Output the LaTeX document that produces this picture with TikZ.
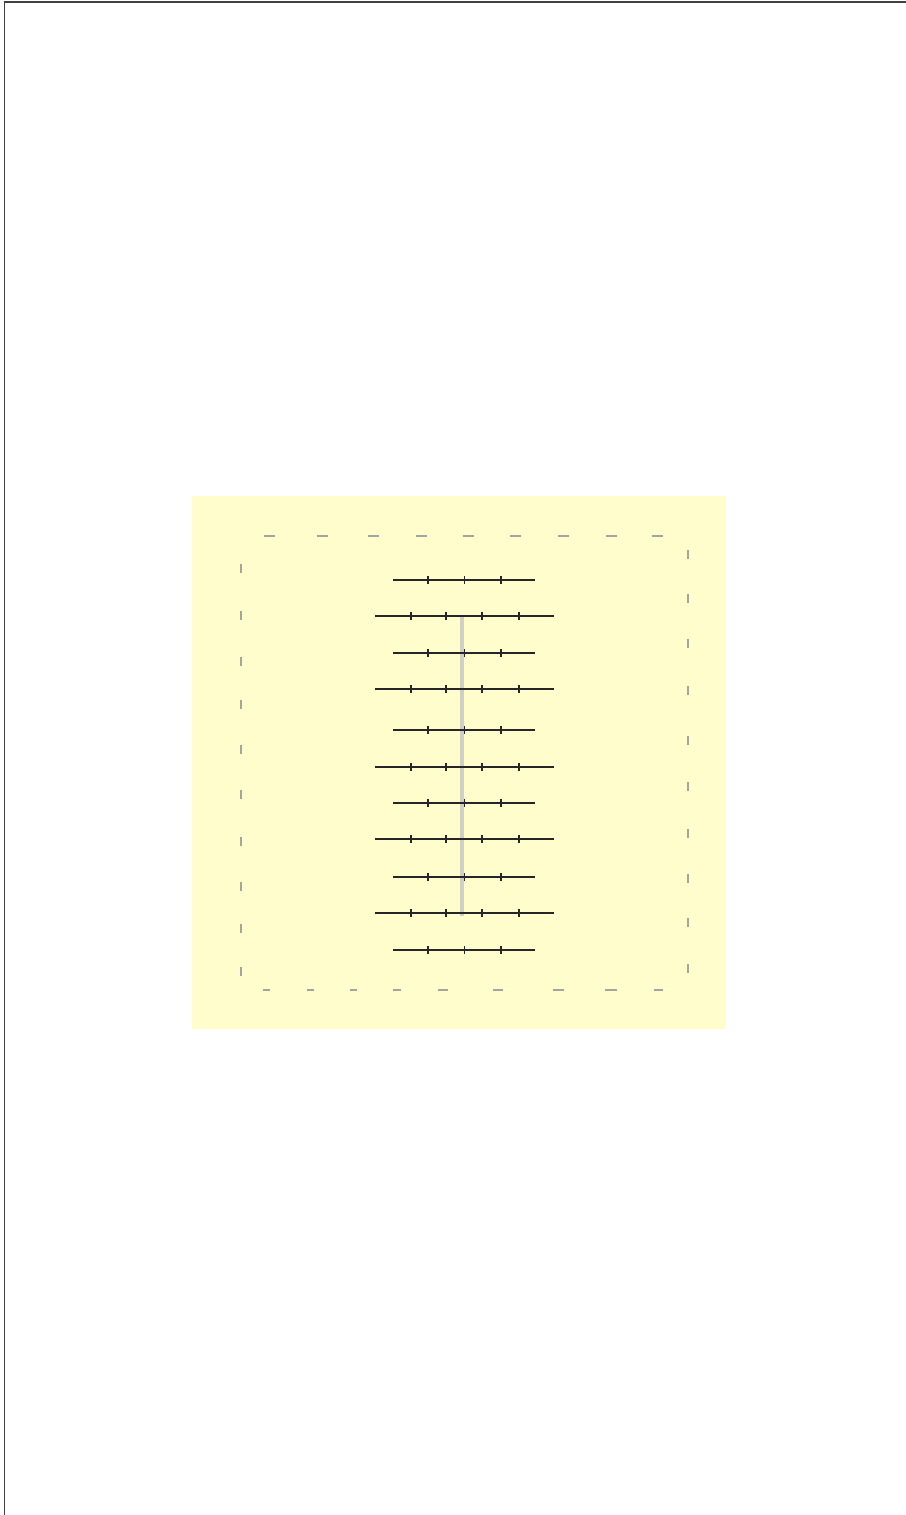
\documentclass[tikz,border=0pt]{standalone}
\usepackage{tikz}
\usetikzlibrary{calc}
\definecolor{padyellow}{RGB}{255,253,204}
\definecolor{dashgray}{RGB}{165,165,160}
\definecolor{guidegray}{RGB}{208,208,200}
\tikzset{
  frame line/.style={line width=1.1pt, black!75},
  rim dash/.style={dashgray, line width=0.6pt},
  scale line/.style={line width=0.8pt, black!85},
  scale tick/.style={line width=0.8pt, black!85},
}

\begin{document}
\begin{tikzpicture}[x=0.02cm, y=-0.02cm]
  \useasboundingbox (0,0) rectangle (906,1515);

  %page frame, only top and left edges show
  \draw[frame line] (4.5,1515) -- (4.5,2) -- (906,2);

  %yellow pad
  \fill[padyellow] (192,496) rectangle (726,1029);

  %top and bottom dashes
  \foreach \x in {269,322,373,421,468,515,563,611,657}
    \draw[rim dash] (\x-5.5,536) -- (\x+5.5,536);
  \foreach \x/\w in {266/7,310/7,353/7,397/8,443/10,498/10,558/11,611/12,658/9}
    \draw[rim dash] (\x-\w/2,990) -- (\x+\w/2,990);

  %left and right dashes
  \foreach \y in {568,615,661,704,749,794,841,886,928,971}
    \draw[rim dash] (241,\y-4.5) -- (241,\y+4.5);
  \foreach \y in {554,598,643,690,740,786,833,878,922,968}
    \draw[rim dash] (688,\y-4.5) -- (688,\y+4.5);

  %gray guide behind the rows
  \coordinate (guide top) at (462,616);
  \coordinate (guide bottom) at (462,916);
  \draw[guidegray, line width=2.2pt] (guide top) -- (guide bottom);

  %short rows with three ticks
  \foreach \y in {580,653,730,803,877,950} {
    \draw[scale line] (393,\y) -- (535,\y);
    \foreach \tx in {428,464.5,501}
      \draw[scale tick] (\tx,\y-4) -- (\tx,\y+4);
  }
  %long rows with four ticks
  \foreach \y in {616,689,767,839,913} {
    \draw[scale line] (375,\y) -- (554,\y);
    \foreach \tx in {411,446,482,519}
      \draw[scale tick] (\tx,\y-4) -- (\tx,\y+4);
  }
\end{tikzpicture}
\end{document}
